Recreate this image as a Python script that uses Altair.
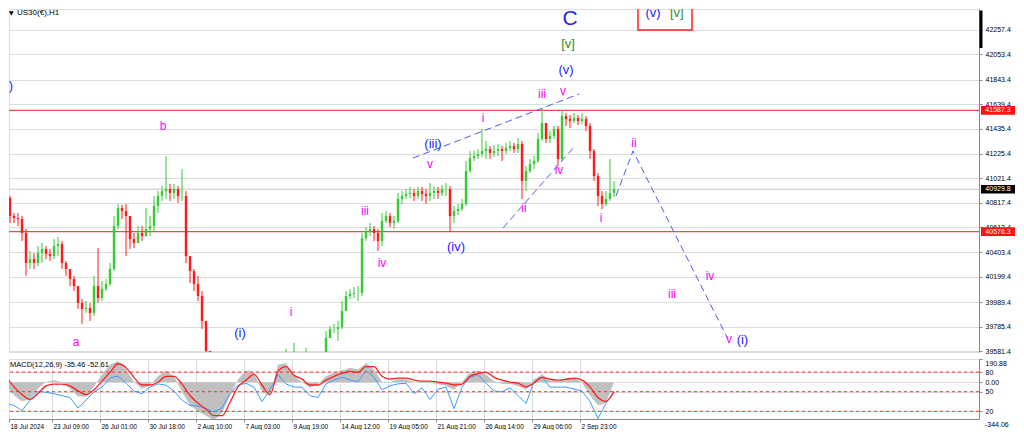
import altair as alt
import pandas as pd

# ---------------- price data (H1 candles) ----------------
FIRST_OPEN = 41165
close = [40857, 40707, 40690, 40682, 40565, 40315, 40348, 40315, 40398, 40432,
         40390, 40373, 40457, 40473, 40315, 40265, 40182, 40123, 39982, 39932,
         39940, 39898, 40123, 40023, 40098, 40140, 40265, 40623, 40773, 40748,
         40707, 40515, 40482, 40565, 40540, 40598, 40623, 40790, 40874, 40915,
         40932, 40899, 40932, 40874, 40874, 40373, 40248, 40140, 40040, 39832,
         39581, 39300, 39050, 38850, 38950, 38800, 39050, 39250, 39400, 39300,
         39150, 39000, 39050, 38950, 39100, 39250, 39350, 39400, 39450, 39480,
         39500, 39450, 39520, 39400, 39450, 39500, 39450, 39480, 39520, 39560,
         39690, 39765, 39765, 39782, 39915, 40040, 40057, 40065, 40065, 40523,
         40582, 40598, 40565, 40498, 40665, 40707, 40648, 40665, 40849, 40874,
         40890, 40899, 40874, 40915, 40890, 40874, 40899, 40915, 40899, 40932,
         40932, 40707, 40748, 40765, 40807, 41082, 41190, 41207, 41224, 41249,
         41265, 41232, 41249, 41265, 41249, 41274, 41290, 41265, 41307, 40999,
         41082, 41140, 41165, 41349, 41482, 41349, 41374, 41432, 41182, 41540,
         41515, 41499, 41524, 41499, 41515, 41457, 41249, 41040, 40874, 40807,
         40849, 40899, 40930]
high = [41249, 40874, 40732, 40732, 40707, 40598, 40415, 40398, 40457, 40482,
        40457, 40432, 40515, 40532, 40498, 40332, 40248, 40207, 40123, 40015,
        39998, 39982, 40207, 40440, 40165, 40182, 40315, 40707, 40807, 40799,
        40807, 40665, 40565, 40623, 40623, 40773, 40707, 40874, 40915, 40957,
        41207, 40974, 40974, 40957, 41099, 40915, 40373, 40265, 40207, 40082,
        39706, 39560, 39350, 39100, 39050, 39000, 39150, 39350, 39480, 39450,
        39350, 39200, 39150, 39100, 39150, 39300, 39450, 39500, 39530, 39560,
        39600, 39550, 39650, 39540, 39520, 39610, 39550, 39540, 39560, 39575,
        39748, 39790, 39807, 39832, 39998, 40082, 40098, 40115, 40123, 40565,
        40615, 40648, 40623, 40598, 40732, 40748, 40732, 40707, 40899, 40915,
        40932, 40949, 40932, 40949, 40949, 40932, 40982, 40957, 40949, 40965,
        40982, 40957, 40790, 40807, 40849, 41165, 41249, 41249, 41265, 41432,
        41332, 41290, 41299, 41307, 41290, 41315, 41332, 41315, 41357, 41332,
        41124, 41182, 41207, 41399, 41599, 41457, 41415, 41457, 41457, 41590,
        41565, 41549, 41565, 41549, 41565, 41540, 41482, 41265, 41065, 40915,
        40915, 41182, 40999]
low = [40832, 40648, 40648, 40623, 40498, 40207, 40265, 40265, 40290, 40315,
       40348, 40332, 40348, 40373, 40265, 40207, 40123, 40082, 39932, 39807,
       39898, 39832, 39873, 39982, 39998, 40082, 40123, 40248, 40598, 40682,
       40373, 40432, 40440, 40498, 40498, 40532, 40540, 40582, 40732, 40832,
       40849, 40832, 40849, 40815, 40832, 40315, 40148, 40082, 39998, 39765,
       39456, 39250, 38980, 38750, 38700, 38650, 38750, 39000, 39200, 39200,
       39100, 38950, 38900, 38850, 38900, 39050, 39200, 39300, 39350, 39400,
       39420, 39380, 39400, 39350, 39380, 39420, 39400, 39420, 39450, 39480,
       39565, 39706, 39731, 39665, 39765, 39915, 40015, 40023, 39998, 40040,
       40498, 40540, 40498, 40415, 40457, 40648, 40615, 40598, 40648, 40807,
       40849, 40857, 40832, 40849, 40832, 40807, 40832, 40849, 40849, 40874,
       40874, 40573, 40648, 40715, 40748, 40790, 41065, 41165, 41182, 41199,
       41182, 41182, 41199, 41207, 41165, 41224, 41249, 41232, 41232, 40849,
       40915, 41065, 41099, 41149, 41332, 41315, 41315, 41349, 41132, 41165,
       41457, 41440, 41482, 41465, 41474, 41415, 41182, 40999, 40790, 40765,
       40790, 40832, 40865]

# ---------------- indicator window (one value every 2 bars) ----------------
hist = [-29, -108, -155, -140, -53, 2, 18, 2, -53, -116,
        -116, -37, 65, 144, 175, 104, 2, -53, -22, 49,
        97, 49, -77, -187, -234, -273, -313, -250, -108, 26,
        97, 81, -77, -108, 144, 159, 49, 2, -45, -14,
        49, 81, 97, 120, 104, 159, 104, 2, 2, 26,
        26, 2, -6, -6, -14, -29, -61, 2, 81, 97,
        65, 10, -14, -14, -29, -61, 26, 65, 18, 10,
        34, 34, 2, -108, -187, -171, 2]
signal = [49, -37, -100, -140, -92, -29, -14, -14, -29, -69,
          -100, -61, 10, 81, 152, 120, 41, -22, -22, 2,
          49, 49, -14, -108, -171, -218, -273, -273, -163, -37,
          18, 65, -22, -100, 89, 128, 57, 26, -22, -22,
          18, 49, 73, 89, 81, 128, 128, 49, 26, 34,
          34, 18, 10, 10, 2, -6, -22, -14, 49, 73,
          81, 41, 18, 2, -6, -37, -6, 41, 26, 18,
          26, 34, 18, -37, -124, -155, -77]
rsi = [32, 29, 21, 37, 51, 49, 47, 44, 41, 25,
       37, 50, 57, 71, 74, 63, 51, 47, 57, 62,
       60, 51, 37, 29, 28, 24, 19, 25, 47, 60,
       63, 57, 35, 53, 76, 62, 57, 57, 44, 41,
       62, 68, 72, 68, 65, 82, 72, 53, 59, 62,
       63, 47, 56, 38, 54, 57, 24, 57, 72, 76,
       63, 51, 50, 56, 44, 32, 65, 72, 57, 57,
       57, 54, 51, 35, 9, 32, 51]
MACD_MAX = 190.88
MACD_MIN = -344.06
MACD_VIEW_MIN = -300
rsi_levels = [80, 50, 20]

# ---------------- axes ----------------
tick_labels = ['18 Jul 2024', '23 Jul 09:00', '26 Jul 01:00', '30 Jul 18:00', '2 Aug 10:00',
               '7 Aug 03:00', '9 Aug 19:00', '14 Aug 12:00', '19 Aug 05:00', '21 Aug 21:00',
               '26 Aug 14:00', '29 Aug 06:00', '2 Sep 23:00']
tick_bars = [1.25, 12, 24, 36, 48, 60, 72, 84, 96, 108, 120, 132, 144]
price_ticks = [42257.4, 42053.4, 41843.4, 41639.4, 41435.4, 41225.4, 41021.4, 40817.4,
               40613.4, 40403.4, 40199.4, 39989.4, 39785.4, 39581.4]
red_levels = [41587.3, 40576.3]
last_price = 40929.8

# ---------------- Elliott wave labels ----------------
lab_text = ['C', '[v]', '(v)', 'v', 'iii', 'i', '(iii)', 'v', 'iii', 'iv', '(iv)', 'ii', 'iv', 'i',
            'b', 'a', '(i)', 'i', '(b)', 'ii', 'iii', 'iv', 'v', '(i)', '(v)', '[v]']
lab_bar = [141.5, 141, 140.5, 139.75, 134.5, 119.75, 107.25, 106.5, 90.25, 94.5, 113, 130, 138.75, 149.25,
           39.75, 18, 59, 71.75, 0.3, 157.5, 167, 176.5, 181.25, 184.6, 162.25, 168.2]
lab_price = [42345, 42141, 41924, 41749, 41724, 41524, 41307, 41140, 40748, 40315, 40448, 40773, 41090, 40690,
             41457, 39656, 39731, 39907, 41790, 41315, 40057, 40207, 39681, 39673, 42395, 42399]
lab_kind = ['blueC', 'green', 'blue', 'pink', 'pink', 'pink', 'blue', 'pink', 'pink', 'pink', 'blue', 'pink',
            'pink', 'pink', 'pink', 'pink', 'blue', 'pink', 'blue', 'pink', 'pink', 'pink', 'pink', 'blue',
            'blue', 'green']

# dashed wave lines: trend channel lines and projected path
line_id = ['up', 'up', 'lo', 'lo', 'proj', 'proj', 'proj']
line_bar = [102.25, 143.75, 124.75, 142.5, 153, 157.25, 181]
line_price = [41190, 41724, 40607, 41282, 40874, 41249, 39681]

# target box at top
box_bar = [158.5, 172]
box_price = [42257, 42700]

# ---------------- build tables ----------------
W, HP, HM = 970, 343, 60
X0, X1 = 1.25, 243.75
opens = [FIRST_OPEN] + close[:-1]
rows = []
for i, (o, c, h, l) in enumerate(zip(opens, close, high, low)):
    rows.append(dict(u0=i + 0.2, u1=i + 0.8, uc=i + 0.5, open=o, close=c,
                     hi=max(h, o, c), lo=min(l, o, c),
                     col='#33cc33' if c >= o else '#ff1a1a'))
cdf = pd.DataFrame(rows)

kind_color = {'blueC': '#2424e6', 'blue': '#2323ff', 'pink': '#ff00ff', 'green': '#2e8b2e'}
kind_size = {'blueC': 21, 'blue': 13, 'pink': 12, 'green': 13}
ldf = pd.DataFrame(dict(t=lab_text, u=lab_bar, p=lab_price,
                        c=[kind_color[k] for k in lab_kind], s=[kind_size[k] for k in lab_kind]))
tdf = pd.DataFrame(dict(id=line_id, u=line_bar, p=line_price, o=list(range(len(line_id)))))
hdf = pd.DataFrame(dict(p=red_levels + [last_price], c=['#f04848', '#f04848', '#c8c8c8']))
badge = pd.DataFrame(dict(p=red_levels + [last_price], c=['#ff1010', '#ff1010', '#000000'],
                          t=['%.1f' % v for v in red_levels + [last_price]]))
badge['lo'] = badge['p'] - 36
badge['hi'] = badge['p'] + 36
bx = pd.DataFrame(dict(u=[box_bar[0]], u2=[box_bar[1]], p=[box_price[0]], p2=[box_price[1]]))

xs = alt.Scale(domain=[X0, X1], nice=False, zero=False)
ys = alt.Scale(domain=[39573.2, 42432.4], nice=False, zero=False)
yaxis = alt.Axis(orient='right', values=price_ticks, format='.1f', tickSize=3, labelPadding=3,
                 title=None, labelFlush=False, labelFontSize=7, labelOverlap=False)

FONT = 'Liberation Sans'

hlines = alt.Chart(hdf).mark_rule(clip=True, strokeWidth=1.2).encode(
    y=alt.Y('p:Q', scale=ys, axis=yaxis), color=alt.Color('c:N', scale=None))
wicks = alt.Chart(cdf).mark_rule(clip=True, strokeWidth=1).encode(
    x=alt.X('uc:Q', scale=xs, axis=None),
    y=alt.Y('lo:Q', scale=ys, axis=yaxis), y2='hi:Q', color=alt.Color('col:N', scale=None))
bodies = alt.Chart(cdf).mark_rect(clip=True).encode(
    x=alt.X('u0:Q', scale=xs, axis=None), x2='u1:Q',
    y=alt.Y('open:Q', scale=ys, axis=yaxis), y2='close:Q', color=alt.Color('col:N', scale=None))
tlines = alt.Chart(tdf).mark_line(clip=True, strokeDash=[7, 4], strokeWidth=1, color='#4b5cf0').encode(
    x=alt.X('u:Q', scale=xs, axis=None), y=alt.Y('p:Q', scale=ys, axis=yaxis),
    detail='id:N', order='o:Q')
labels = alt.Chart(ldf).mark_text(clip=True, font=FONT, baseline='middle', align='center').encode(
    x=alt.X('u:Q', scale=xs, axis=None), y=alt.Y('p:Q', scale=ys, axis=yaxis), text='t:N',
    color=alt.Color('c:N', scale=None), size=alt.Size('s:Q', scale=None))
box = alt.Chart(bx).mark_rect(clip=True, filled=False, stroke='#ff2020', strokeWidth=1.5).encode(
    x=alt.X('u:Q', scale=xs, axis=None), x2='u2:Q', y=alt.Y('p:Q', scale=ys, axis=yaxis), y2='p2:Q')
badge_r = alt.Chart(badge).mark_rect(clip=False).encode(
    x=alt.value(W + 2), x2=alt.value(W + 36),
    y=alt.Y('lo:Q', scale=ys, axis=yaxis), y2='hi:Q', color=alt.Color('c:N', scale=None))
badge_t = alt.Chart(badge).mark_text(clip=False, font=FONT, fontSize=7, color='white',
                                     baseline='middle', align='center').encode(
    x=alt.value(W + 19), y=alt.Y('p:Q', scale=ys, axis=yaxis), text='t:N')
sbar = alt.Chart(pd.DataFrame(dict(a=[42420], b=[42107]))).mark_rule(clip=False, strokeWidth=3,
                                                                      color='black').encode(
    x=alt.value(W + 2), y=alt.Y('a:Q', scale=ys, axis=yaxis), y2='b:Q')
ttl = alt.Chart(pd.DataFrame(dict(t=['US30(€),H1']))).mark_text(
    font=FONT, fontSize=8, align='left', baseline='middle', color='black').encode(
    x=alt.value(8), y=alt.value(4), text='t:N')
tri = alt.Chart(pd.DataFrame(dict(t=['▼']))).mark_text(
    font='DejaVu Sans', fontSize=6, align='left', baseline='middle', color='black').encode(
    x=alt.value(0), y=alt.value(4), text='t:N')

price = alt.layer(hlines, wicks, bodies, tlines, box, labels, badge_r, badge_t, sbar, ttl, tri).properties(
    width=W, height=HP)

# ---------------- indicator panel ----------------
span = MACD_MAX - MACD_MIN
mdf = pd.DataFrame(dict(u=[2 * k + 0.5 for k in range(len(hist))], hist=hist, signal=signal, rsi=rsi))
mdf['zero'] = 0
mdf['rsi_m'] = [MACD_MIN + v / 100 * span for v in rsi]
lv = [MACD_MIN + v / 100 * span for v in rsi_levels]
ldf2 = pd.DataFrame(dict(v=lv))
ms = alt.Scale(domain=[MACD_VIEW_MIN, MACD_MAX], nice=False, zero=False)
maxis = alt.Axis(orient='right', values=[MACD_MAX, lv[0], 0, lv[1], lv[2]],
                 labelExpr="datum.value > 150 ? '190.88' : datum.value > 50 ? '80' : "
                           "datum.value > -30 ? '0.00' : datum.value > -150 ? '50' : '20'",
                 labelFlush=True, tickSize=3, labelPadding=3, title=None, labelFontSize=7,
                 labelOverlap=False)
xaxis = alt.Axis(values=tick_bars, title=None, labelAlign='left', labelFlush=False, tickSize=3,
                 labelPadding=1, labelOffset=1, labelOverlap=False, labelBaseline='top',
                 labelFontSize=6.5,
                 labelExpr="[" + ",".join("'%s'" % s for s in tick_labels) + "][round(datum.value/12)]")

harea = alt.Chart(mdf).mark_area(color='#c0c0c0', clip=True).encode(
    x=alt.X('u:Q', scale=xs, axis=xaxis), y=alt.Y('hist:Q', scale=ms, axis=maxis), y2='zero:Q')
lvl = alt.Chart(ldf2).mark_rule(color='#ff2a2a', strokeDash=[3, 3], strokeWidth=1).encode(
    y=alt.Y('v:Q', scale=ms, axis=maxis))
rsil = alt.Chart(mdf).mark_line(color='#3d9bff', strokeWidth=1, clip=True).encode(
    x=alt.X('u:Q', scale=xs, axis=xaxis), y=alt.Y('rsi_m:Q', scale=ms, axis=maxis))
sigl = alt.Chart(mdf).mark_line(color='#ff2020', strokeWidth=1.3, interpolate='monotone', clip=True).encode(
    x=alt.X('u:Q', scale=xs, axis=xaxis), y=alt.Y('signal:Q', scale=ms, axis=maxis))
mttl = alt.Chart(pd.DataFrame(dict(t=['MACD(12,26,9) -35.46 -52.61']))).mark_text(
    font=FONT, fontSize=7.5, align='left', baseline='middle', color='black').encode(
    x=alt.value(1), y=alt.value(6), text='t:N')
mmin = alt.Chart(pd.DataFrame(dict(t=['%.2f' % MACD_MIN]))).mark_text(
    font=FONT, fontSize=7, align='left', baseline='middle', color='black', clip=False).encode(
    x=alt.value(W + 6), y=alt.value(HM + 6), text='t:N')

macd = alt.layer(harea, lvl, rsil, sigl, mttl, mmin).properties(width=W, height=HM)

chart = alt.vconcat(price, macd, spacing=3).properties(
    padding={'left': 0, 'top': 0, 'right': 0, 'bottom': 0}
).configure_view(stroke='#7a7a7a', strokeWidth=1).configure_axis(
    domain=False, grid=False, labelFont=FONT, labelColor='#000000',
    tickColor='#000000', tickWidth=1
).configure(background='white')

chart.save('out.html', embed_options={'renderer': 'svg', 'actions': False})
